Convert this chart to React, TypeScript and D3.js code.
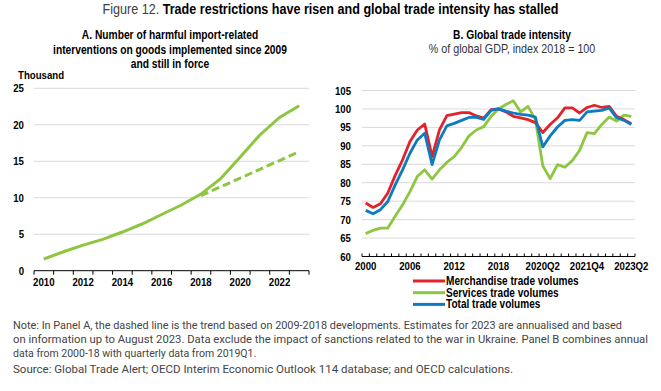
import React from 'react';
import * as d3 from 'd3';

// Panel A: harmful import-related interventions (thousand)
const yearsA = ['2010', '2011', '2012', '2013', '2014', '2015', '2016', '2017', '2018', '2019', '2020', '2021', '2022', '2023'];
const actualA = [1.6, 2.6, 3.5, 4.3, 5.3, 6.4, 7.7, 9.0, 10.5, 12.6, 15.6, 18.6, 21.0, 22.6];
const trendYearsA = ['2018', '2019', '2020', '2021', '2022', '2023'];
const trendA = [10.3, 11.5, 12.7, 13.9, 15.1, 16.3];
const tickLabelsA = ['2010', '2012', '2014', '2016', '2018', '2020', '2022'];

// Panel B: global trade intensity, index 2018 = 100
const periodsB = [
  '2000', '2001', '2002', '2003', '2004', '2005', '2006', '2007', '2008', '2009',
  '2010', '2011', '2012', '2013', '2014', '2015', '2016', '2017', '2018',
  '2019Q1', '2019Q2', '2019Q3', '2019Q4', '2020Q1', '2020Q2', '2020Q3', '2020Q4',
  '2021Q1', '2021Q2', '2021Q3', '2021Q4', '2022Q1', '2022Q2', '2022Q3', '2022Q4',
  '2023Q1', '2023Q2',
];
const merchandise = [
  74.5, 73.3, 74.3, 77.2, 82.0, 86.2, 91.2, 94.3, 95.9, 87.1,
  94.3, 98.2, 98.6, 99.0, 99.0, 98.1, 97.5, 99.8, 100,
  99.2, 98.0, 97.6, 97.1, 96.3, 93.6, 95.8, 97.6,
  100.3, 100.3, 98.9, 100.4, 101.0, 100.4, 100.7, 98.0,
  97.1, 96.0,
];
const services = [
  66.2, 67.1, 67.7, 67.7, 70.9, 74.0, 77.6, 81.7, 83.5, 81.0,
  83.5, 85.5, 87.1, 89.6, 92.7, 94.3, 95.2, 98.0, 100,
  101.2, 102.2, 99.2, 100.7, 97.1, 84.6, 81.1, 84.9,
  84.2, 86.0, 88.8, 93.6, 93.3, 95.8, 97.8, 96.7,
  98.3, 98.0,
];
const total = [
  72.5, 71.6, 72.7, 74.9, 79.4, 83.5, 88.0, 91.6, 93.4, 84.9,
  91.6, 95.4, 96.1, 96.9, 97.7, 97.7, 97.2, 99.6, 100,
  99.4, 98.9, 98.5, 98.3, 97.8, 89.7, 92.7, 95.1,
  96.9, 97.1, 96.9, 99.2, 99.4, 99.6, 100.3, 97.6,
  96.9, 95.8,
];
const tickLabelsB = ['2000', '2006', '2012', '2018', '2020Q2', '2021Q4', '2023Q2'];

const seriesB = [
  { name: 'Merchandise trade volumes', values: merchandise, color: '#e1232c' },
  { name: 'Services trade volumes', values: services, color: '#8dc641' },
  { name: 'Total trade volumes', values: total, color: '#0d7bc2' },
];

const noteLines = [
  'Note: In Panel A, the dashed line is the trend based on 2009-2018 developments. Estimates for 2023 are annualised and based',
  'on information up to August 2023. Data exclude the impact of sanctions related to the war in Ukraine. Panel B combines annual',
  'data from 2000-18 with quarterly data from 2019Q1.',
];
const sourceLine = 'Source: Global Trade Alert; OECD Interim Economic Outlook 114 database; and OECD calculations.';

const sans = '"Liberation Sans", Arial, sans-serif';
const noteFont = 'Roboto, "Noto Sans", sans-serif';
const grid = '#d9d9d9';
const squeeze = 0.84;

// condensed text: no narrow font is installed, so squeeze horizontally
function NT(props: {
  x: number; y: number; size?: number; bold?: boolean; anchor?: 'start' | 'middle' | 'end';
  fill?: string; k?: number; children: React.ReactNode;
}) {
  const { x, y, size = 11, bold = true, anchor = 'start', fill = '#000', k = squeeze, children } = props;
  return (
    <text
      transform={`translate(${x},${y}) scale(${k},1)`}
      textAnchor={anchor}
      fontFamily={sans}
      fontSize={size}
      fontWeight={bold ? 'bold' : 'normal'}
      fill={fill}
    >
      {children}
    </text>
  );
}

export default function App() {
  const W = 661;
  const H = 391;

  // ---- Panel A scales
  const xA = d3.scaleBand<string>().domain(yearsA).range([34, 309]);
  const yA = d3.scaleLinear().domain([0, 25]).range([270.7, 88.3]);
  const cxA = (d: string) => (xA(d) ?? 0) + xA.bandwidth() / 2;
  const lineA = d3.line<[string, number]>().x((d) => cxA(d[0])).y((d) => yA(d[1]));
  const solidPath = lineA(yearsA.map((y, i) => [y, actualA[i]]) as [string, number][]) ?? '';
  const dashPath = lineA(trendYearsA.map((y, i) => [y, trendA[i]]) as [string, number][]) ?? '';
  const bTicksA = yearsA.map((y) => xA(y) ?? 0).concat([309]);

  // ---- Panel B scales
  const xB = d3.scaleBand<string>().domain(periodsB).range([362, 635]);
  const yB = d3.scaleLinear().domain([60, 105]).range([256.5, 90.5]);
  const cxB = (d: string) => (xB(d) ?? 0) + xB.bandwidth() / 2;
  const lineB = d3.line<number>().x((_, i) => cxB(periodsB[i])).y((d) => yB(d));
  const bTicksB = periodsB.map((p) => xB(p) ?? 0).concat([635]);

  const drawOrder = [seriesB[1], seriesB[0], seriesB[2]];

  return (
    <svg width={W} height={H} style={{ position: 'absolute', left: 0, top: 0, background: '#fff' }}>
      {/* Figure title */}
      <text transform={`translate(${W / 2},14) scale(0.9,1)`} textAnchor="middle" fontFamily={sans} fontSize={14} fill="#404040">
        <tspan>Figure 12. </tspan>
        <tspan fontWeight="bold" fill="#000">Trade restrictions have risen and global trade intensity has stalled</tspan>
      </text>

      {/* Panel A title */}
      <NT x={170} y={39} size={12.5} anchor="middle" k={0.82}>A. Number of harmful import-related</NT>
      <NT x={170} y={54} size={12.5} anchor="middle" k={0.82}>interventions on goods implemented since 2009</NT>
      <NT x={170} y={68} size={12.5} anchor="middle" k={0.82}>and still in force</NT>
      <NT x={18} y={79} size={11.5}>Thousand</NT>

      {/* Panel A grid + axes */}
      {yA.ticks(5).map((t) => (
        <g key={`ga${t}`}>
          {t > 0 && <line x1={34} x2={309} y1={yA(t)} y2={yA(t)} stroke={grid} strokeWidth={1} />}
          <NT x={24} y={yA(t) + 4} size={11.5} anchor="end">{t}</NT>
        </g>
      ))}
      <line x1={34} x2={309} y1={yA(0)} y2={yA(0)} stroke="#000" strokeWidth={1} />
      {bTicksA.map((x, i) => (
        <line key={`ta${i}`} x1={x} x2={x} y1={yA(0)} y2={yA(0) + 4} stroke="#000" strokeWidth={1} />
      ))}
      {tickLabelsA.map((t) => (
        <NT key={`la${t}`} x={cxA(t)} y={286} size={11.5} anchor="middle">{t}</NT>
      ))}
      <path d={dashPath} fill="none" stroke="#8dc641" strokeWidth={3} strokeDasharray="8,4" />
      <path d={solidPath} fill="none" stroke="#8dc641" strokeWidth={3} />

      {/* Panel B title */}
      <NT x={512} y={39} size={12.5} anchor="middle" k={0.82}>B. Global trade intensity</NT>
      <NT x={512} y={53} size={12.5} anchor="middle" bold={false} fill="#333" k={0.86}>% of global GDP, index 2018 = 100</NT>

      {/* Panel B grid + axes */}
      {yB.ticks(9).map((t) => (
        <g key={`gb${t}`}>
          {t > 60 && <line x1={362} x2={635} y1={yB(t)} y2={yB(t)} stroke={grid} strokeWidth={1} />}
          <NT x={351} y={yB(t) + 4} size={11.5} anchor="end">{t}</NT>
        </g>
      ))}
      <line x1={362} x2={635} y1={yB(60)} y2={yB(60)} stroke="#000" strokeWidth={1} />
      {bTicksB.map((x, i) => (
        <line key={`tb${i}`} x1={x} x2={x} y1={yB(60) - 3} y2={yB(60)} stroke="#000" strokeWidth={1} />
      ))}
      {tickLabelsB.map((t) => (
        <NT key={`lb${t}`} x={cxB(t)} y={270} size={11.5} anchor="middle">{t}</NT>
      ))}
      {drawOrder.map((s) => (
        <path key={s.name} d={lineB(s.values) ?? ''} fill="none" stroke={s.color} strokeWidth={2.8} strokeLinejoin="round" />
      ))}

      {/* Legend */}
      {seriesB.map((s, i) => (
        <g key={`lg${i}`}>
          <line x1={413} x2={445} y1={281 + i * 11.7} y2={281 + i * 11.7} stroke={s.color} strokeWidth={3} />
          <NT x={446} y={285 + i * 11.7} size={12}>{s.name}</NT>
        </g>
      ))}

      {/* Notes */}
      <g fontFamily={noteFont} fontSize={10.5} fill="#444">
        {noteLines.map((l, i) => (
          <text key={`n${i}`} x={13} y={329 + i * 14} textLength={i === 0 ? 609 : i === 1 ? 635 : undefined} lengthAdjust="spacingAndGlyphs">{l}</text>
        ))}
        <text x={13} y={373} textLength={500} lengthAdjust="spacingAndGlyphs">{sourceLine}</text>
      </g>
    </svg>
  );
}
